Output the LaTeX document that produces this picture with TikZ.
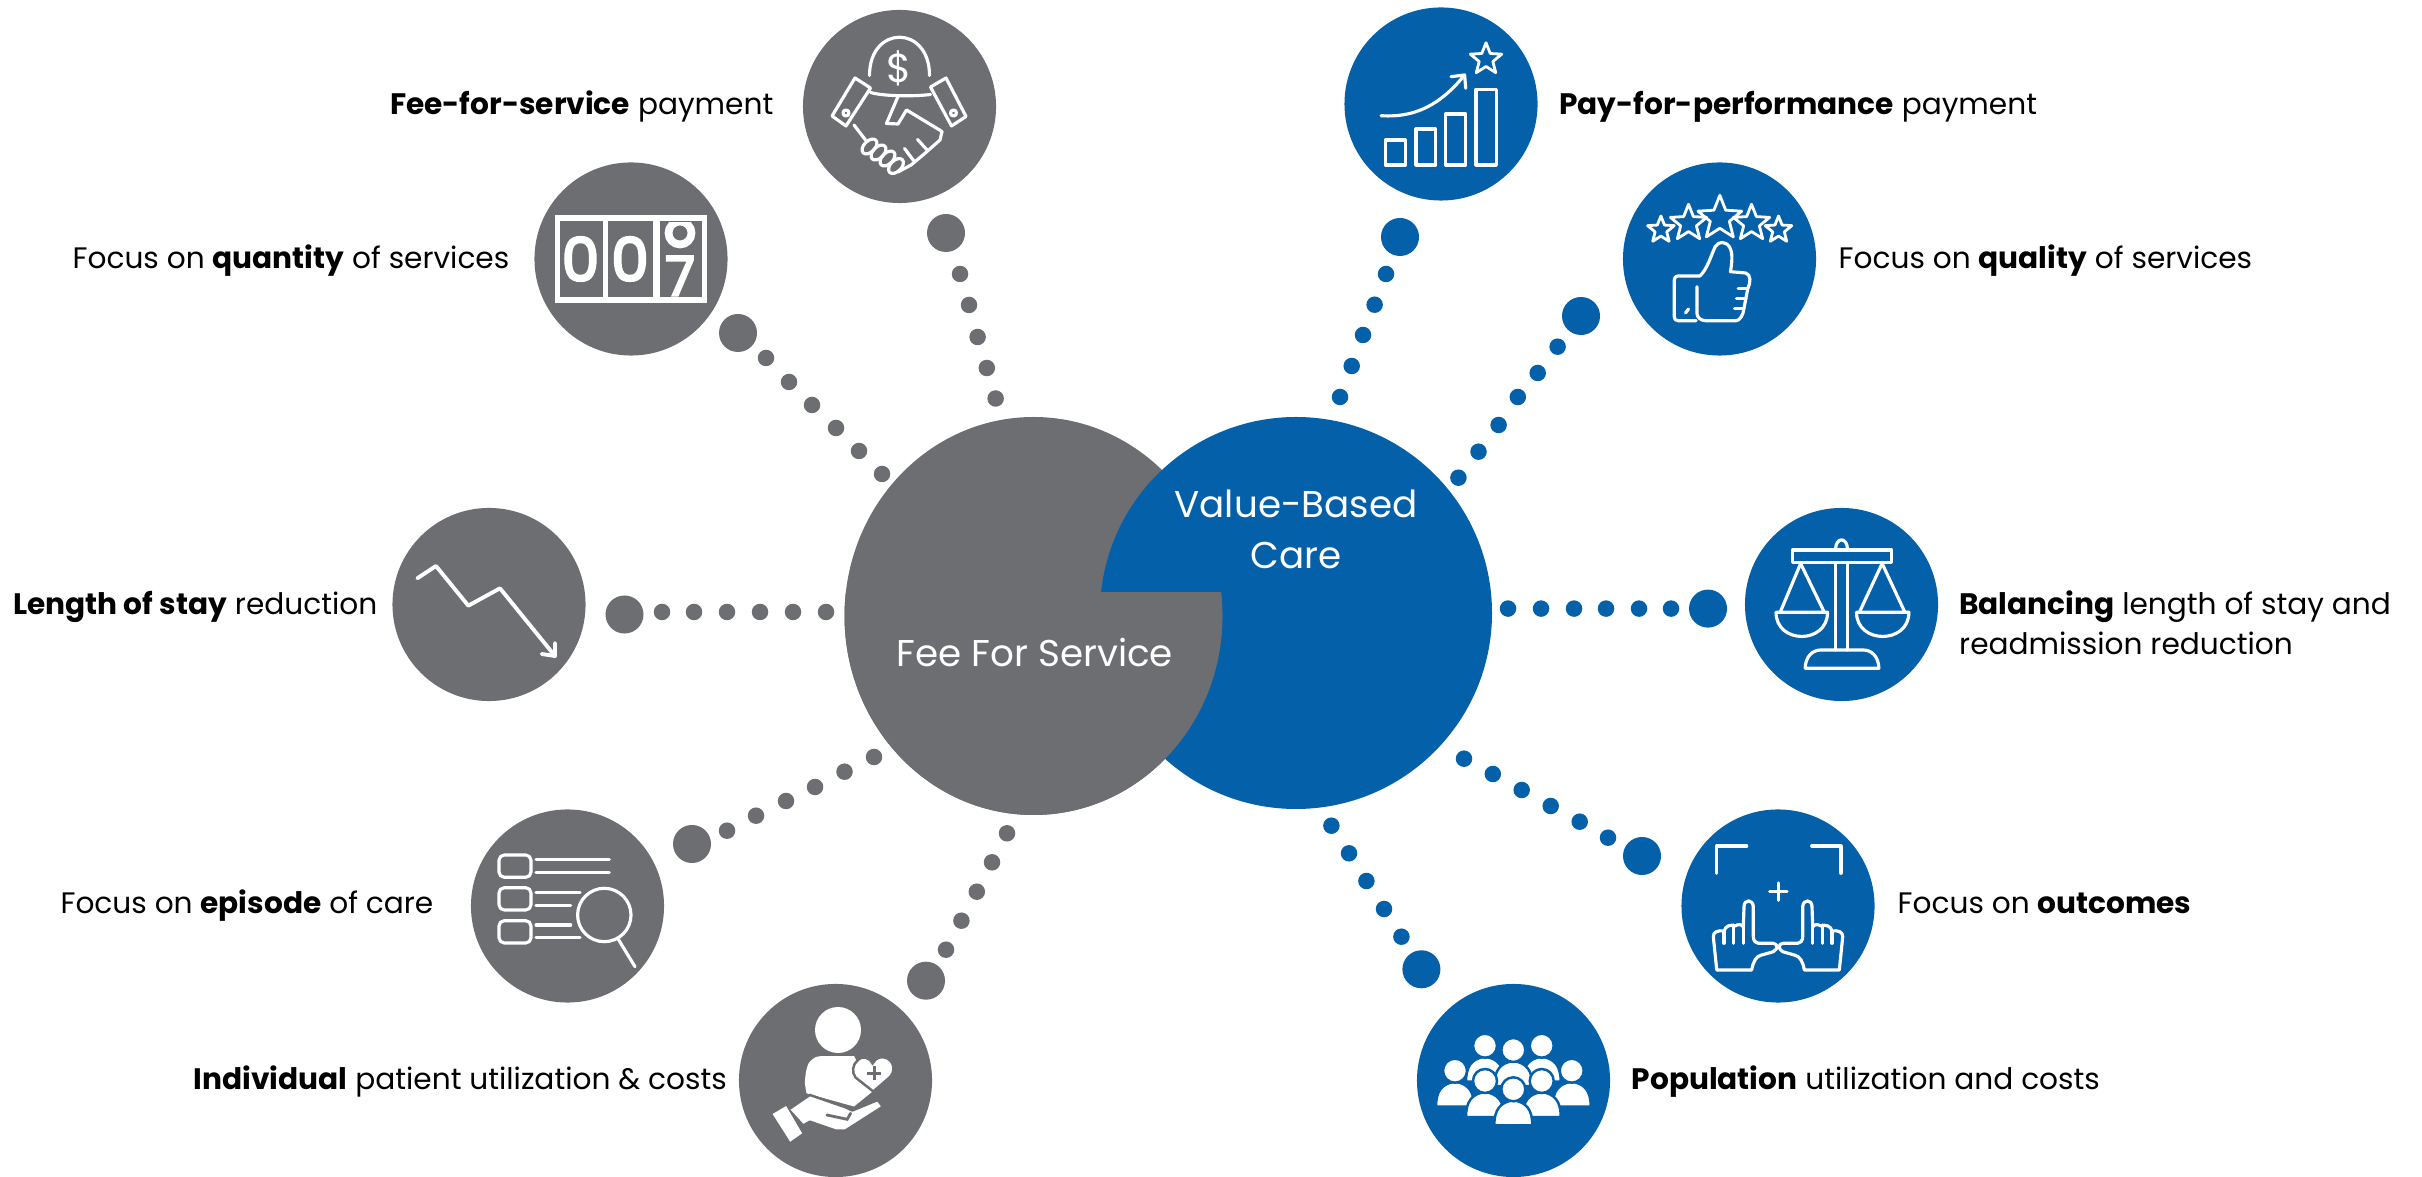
\documentclass[tikz,border=0pt]{standalone}
\usepackage{fontspec}
\setmainfont{Poppins}
\newfontfamily\digitfont[FakeBold=4]{Poppins}
\usetikzlibrary{shapes.geometric}

\definecolor{feegrey}{HTML}{6D6E71}
\definecolor{careblue}{HTML}{0460A9}

\tikzset{
	ring/.style={circle, inner sep=0, minimum size=1.93cm},
	bigdot/.style={circle, inner sep=0, minimum size=0.38cm},
	smalldot/.style={circle, inner sep=0, minimum size=0.165cm},
	label/.style={font=\fontsize{8.42}{11.4}\selectfont, inner sep=0, text=black, align=left},
	centrelabel/.style={font=\fontsize{10.6}{14.5}\selectfont, inner sep=0, text=white, align=center},
	thinline/.style={draw=white, line width=0.9pt, line join=round, line cap=round},
	iconstar/.style={star, star points=5, star point ratio=2.3, draw=white, line width=0.8pt, inner sep=0},
	digit/.style={font=\fontsize{17}{17}\digitfont, inner sep=0, text=white}
}

\begin{document}
\begin{tikzpicture}[x=0.01cm, y=-0.01cm]
		\useasboundingbox (0,0) rectangle (2422,1177);

		% the two big discs, grey in front below the notch
		\fill[feegrey] (1033.5,616) ellipse (189 and 199);
		\fill[careblue] (1296,613) circle (196);
		\begin{scope}
		\clip (800,593) rectangle (1300,900);
		\fill[feegrey] (1033.5,616) ellipse (189 and 199);
		\end{scope}
		\node[centrelabel] (fee) at (1035,652) {Fee For Service};
		\node[centrelabel] (value) at (1296,529) {Value-Based\\Care};

		\node[ring, fill=feegrey] (hand) at (899.5,106.5) {};
		\node[ring, fill=feegrey] (counter) at (631,259) {};
		\node[ring, fill=feegrey] (arrow) at (489,604.5) {};
		\node[ring, fill=feegrey] (episode) at (567.5,906) {};
		\node[ring, fill=feegrey] (person) at (835.5,1080.5) {};
		\node[ring, fill=careblue] (pay) at (1441,104) {};
		\node[ring, fill=careblue] (thumb) at (1719.5,259) {};
		\node[ring, fill=careblue] (scale) at (1841.5,604.5) {};
		\node[ring, fill=careblue] (frame) at (1778,906) {};
		\node[ring, fill=careblue] (crowd) at (1513.5,1080.5) {};

		% dots
		\foreach \x/\y in {946/233, 738/333, 624.5/614.5, 692/844, 926/980.7}
			\node[bigdot, fill=feegrey] at (\x,\y) {};
		\foreach \x/\y in {960/274, 969/305, 977.6/337, 986.8/368, 995.6/398.5,
				766/358, 789/382, 812/405, 836/428, 859/451, 882/474,
				662/612, 694/612, 727/612, 760/612, 793/612, 826/612,
				727/830.7, 756/815.7, 786/801, 815/787, 844.5/771.7, 874/757,
				946/949.7, 961.4/920.7, 976.8/891.7, 992/862.3, 1007/833.3}
			\node[smalldot, fill=feegrey] at (\x,\y) {};
		\foreach \x/\y in {1400/237, 1581/316, 1708/608.6, 1642/856, 1421.4/969.3}
			\node[bigdot, fill=careblue] at (\x,\y) {};
		\foreach \x/\y in {1386/274, 1374.6/304.7, 1363/335, 1351.7/366, 1340/397,
				1557.6/346.7, 1537.7/373, 1517.8/397, 1498.6/425, 1478.5/451.7, 1458.4/477.7,
				1671/608.6, 1639/608.6, 1606/608.6, 1574/608.6, 1541/608.6, 1508/608.6,
				1608/837.7, 1579.7/821.7, 1550.7/806, 1521.7/790, 1492.8/774, 1464/758.7,
				1401.4/936.7, 1384/909, 1366.4/881, 1349/853.3, 1331.4/825.7}
			\node[smalldot, fill=careblue] at (\x,\y) {};

		% labels
		\node[label, anchor=base east] (feelabel) at (774,114.5) {\textbf{Fee-for-service} payment};
		\node[label, anchor=base east] (quantitylabel) at (510,268.5) {Focus on \textbf{quantity} of services};
		\node[label, anchor=base east] (staylabel) at (378,614.5) {\textbf{Length of stay} reduction};
		\node[label, anchor=base east] (episodelabel) at (434,914) {Focus on \textbf{episode} of care};
		\node[label, anchor=base east] (individuallabel) at (727.5,1089.5) {\textbf{Individual} patient utilization \& costs};
		\node[label, anchor=base west] (paylabel) at (1558.5,114.5) {\textbf{Pay-for-performance} payment};
		\node[label, anchor=base west] (qualitylabel) at (1838,268.5) {Focus on \textbf{quality} of services};
		\node[label, anchor=base west] (balancelabel) at (1958.5,654.5) {\textbf{Balancing} length of stay and\\readmission reduction};
		\node[label, anchor=base west] (outcomelabel) at (1897,914) {Focus on \textbf{outcomes}};
		\node[label, anchor=base west] (populationlabel) at (1631,1089.5) {\textbf{Population} utilization and costs};

		% handshake
		\begin{scope}[shift={(hand.center)}, thinline]
		\draw (-30,-31) .. controls (-30,-82) and (30,-82) .. (30,-31);
		\node[font=\fontsize{11.5}{11.5}\selectfont, text=white, inner sep=0] (dollar) at (0,-38) {\$};
		\draw (-44.5,-28.5) -- (-29,-18.5) -- (-53.5,19.5) -- (-67.5,9.5) -- cycle;
		\draw (46.5,-28.5) -- (31,-19.5) -- (52,19.5) -- (66.5,10) -- cycle;
		\draw (-53.5,6.5) circle (3);
		\draw (54,6.5) circle (3);
		\draw (-29,-14) .. controls (-15,-10) and (15,-10) .. (31,-12);
		\draw (-1.5,-10) -- (-13,17) -- (-1.5,17.5) -- (7,3.5) -- (42.5,25);
		\draw (-45.5,18.5) -- (-34,33.5);
		\foreach \x/\y in {-30/40, -21/46, -12/52, -3.5/59.5}
			\draw[shift={(\x,\y)}, rotate=45] (0,0) ellipse (9 and 5.5);
		\draw (42.5,25) -- (40.5,33.5) -- (23.5,48.5) -- (11.5,58.5) -- (-1.5,65.5);
		\draw (28,44) -- (18,33);
		\draw (14,54) -- (5,42);
		\end{scope}

		% counter
		\begin{scope}[shift={(counter.center)}]
		\fill[white] (-76,-44) rectangle (76,44);
		\fill[feegrey] (-71,-38) rectangle (-28.5,38);
		\fill[feegrey] (-23,-38) rectangle (22,38);
		\fill[feegrey] (28.5,-38) rectangle (70.5,38);
		\node[digit] (firstdigit) at (-50.5,0) {0};
		\node[digit] (seconddigit) at (-1,0) {0};
		\node[digit, font=\fontsize{15.5}{15.5}\digitfont] (lastdigit) at (49,17) {7};
		\begin{scope}
		\clip (28.5,-36) rectangle (70.5,-8);
		\draw[white, line width=2.2pt] (49,-26) circle (11.5);
		\end{scope}
		\end{scope}

		% falling arrow
		\begin{scope}[shift={(arrow.center)}, thinline]
		\draw[line width=1.1pt] (-71.7,-26.2) -- (-53,-38.5) -- (-20.7,1.2) -- (11,-16.2) -- (66,51.5);
		\draw[line width=1.1pt] (52.7,49.5) -- (66,51.5) -- (66,38.5);
		\end{scope}

		% list and magnifier
		\begin{scope}[shift={(episode.center)}, thinline]
		\foreach \y in {-51,-18.3,14.7}
			\draw[rounded corners=1.5pt] (-68.5,\y) rectangle (-36.5,\y+22.3);
		\draw (-31.5,-46.7) -- (41.8,-46.7);
		\draw (-31.5,-33.3) -- (41.8,-33.3);
		\draw (-31.5,-13.7) -- (12.5,-13.7);
		\draw (-31.5,-0.7) -- (3.2,-0.7);
		\draw (-31.5,19) -- (3.2,19);
		\draw (-31.5,31.7) -- (12.5,31.7);
		\draw (36.8,9) circle (26.7);
		\draw (50.8,33.3) -- (67.5,60.7);
		\end{scope}

		% person on a hand
		\begin{scope}[shift={(person.center)}]
		\fill[white] (2.5,-50.5) circle (23);
		\fill[white] (-29,12.8) -- (-30.7,2.8) .. controls (-30,-10) and (-28,-18) .. (-24,-20.5)
			.. controls (-20,-24) and (-17,-24.5) .. (-13.7,-24.5) -- (18.5,-24.5) -- (37,11) -- (18.5,26) -- cycle;
		\draw[draw=feegrey, fill=white, line width=0.7pt] (37.1,-17) .. controls (33,-24) and (27,-25) .. (22,-20)
			.. controls (17,-16) and (16,-8) .. (20,-3) -- (37.8,11) -- (54,-3)
			.. controls (60,-9) and (59,-18) .. (52,-22) .. controls (46,-25) and (40,-23) .. (37.1,-17) -- cycle;
		\draw[feegrey, line width=0.8pt] (31.8,-7.2) -- (45.8,-7.2) (38.8,-14.2) -- (38.8,-0.2);
		\draw[draw=feegrey, fill=white, line width=0.7pt, line join=round] (-47,29) -- (-30.7,17.8) -- (-25.6,14.5) -- (10,26.8) -- (16.8,30)
			-- (42.2,19.5) -- (47.3,26.2) -- (10,50) -- (-0.2,50) -- (-25.6,41.2) -- (-32.4,45) -- cycle;
		\draw[feegrey, line width=0.8pt, line cap=round] (-8.6,34.5) -- (11.7,38.8) -- (15.1,32.8);
		\fill[white] (-62.9,33.5) -- (-49.4,25.5) -- (-33.4,52.8) -- (-45.3,61.2) -- cycle;
		\end{scope}

		% bars and arrow
		\begin{scope}[shift={(pay.center)}, thinline]
		\draw (-55.7,36) rectangle (-35.8,61);
		\draw (-25,25) rectangle (-5.5,61);
		\draw (4.8,10) rectangle (24.7,61);
		\draw (35,-14.7) rectangle (55.3,61);
		\draw (-60,11.7) .. controls (-25,14) and (0,0) .. (23.6,-29);
		\draw (10,-27.3) -- (23.6,-29) -- (24.7,-15.7);
		\node[iconstar, minimum size=0.33cm] (paystar) at (45,-44.7) {};
		\end{scope}

		% thumb and stars
		\begin{scope}[shift={(thumb.center)}, thinline]
		\node[iconstar, minimum size=0.28cm] (starone) at (-58.6,-29) {};
		\node[iconstar, minimum size=0.38cm] (startwo) at (-31,-35.7) {};
		\node[iconstar, minimum size=0.46cm] (starthree) at (0.3,-40.7) {};
		\node[iconstar, minimum size=0.38cm] (starfour) at (32,-35.7) {};
		\node[iconstar, minimum size=0.28cm] (starfive) at (59,-29) {};
		\draw[rounded corners=1pt] (-23.4,17) -- (-45.2,17) -- (-45.2,61.7) -- (-23.4,61.7);
		\draw (-23.4,17) -- (-19.6,17) .. controls (-12,10) and (-8,-5) .. (-4.3,-12.3)
			.. controls (-1,-18) and (6,-18) .. (10,-12) .. controls (14,-5) and (12,5) .. (11,12.7) -- (26,14)
			.. controls (32,15) and (31,25) .. (28.3,29.3) -- (26.4,39.3) -- (24.4,49.3)
			.. controls (24,56) and (20,61.7) .. (16.8,61.7) -- (-13.8,61.7) .. controls (-19,61.7) and (-22.6,58) .. (-22.6,54.3) -- (-22.6,27.7);
		\draw (18.7,29.3) -- (28.3,29.3);
		\draw (16.8,39.3) -- (26.4,39.3);
		\draw (15,49.3) -- (24.4,49.3);
		\draw (-34,54) -- (-31,50);
		\end{scope}

		% balance
		\begin{scope}[shift={(scale.center)}, thinline]
		\draw (-49,-54.5) rectangle (50,-42);
		\draw (-6,-54.5) .. controls (-6,-68) and (6,-68) .. (6,-54.5);
		\draw (-6,-42) -- (-6,45.5);
		\draw (6,-42) -- (6,45.5);
		\draw (-36.4,63.8) -- (37.4,63.8) .. controls (37,52) and (30,45.5) .. (21.8,45.5) -- (-20.8,45.5) .. controls (-29,45.5) and (-36,52) .. (-36.4,63.8);
		\draw (-40.9,-41) -- (-61,7);
		\draw (-40.9,-41) -- (-17.6,7);
		\draw (40.6,-41) -- (18.2,7);
		\draw (40.6,-41) -- (63,7);
		\draw (-65.5,7.8) -- (-14,7.8) .. controls (-14,40) and (-65.5,40) .. (-65.5,7.8);
		\draw (15,7.8) -- (67.4,7.8) .. controls (67.4,40) and (15,40) .. (15,7.8);
		\end{scope}

		% framing hands
		\begin{scope}[shift={(frame.center)}, thinline]
		\draw (-61.3,-32.7) -- (-61.3,-60) -- (-31.3,-60);
		\draw (33.7,-60) -- (63,-60) -- (63,-32.7);
		\draw (-8.4,-14.3) -- (9,-14.3);
		\draw (0.3,-23) -- (0.3,-5.6);
		\foreach \s in {1,-1} {
		\begin{scope}[xscale=\s]
		\draw (-61.3,64) -- (-64.7,30.7) .. controls (-65,26) and (-60,24) .. (-54,25) .. controls (-53,20) and (-47,18) .. (-43,20)
			.. controls (-40,18) and (-36,18) .. (-34.7,21) -- (-34,0.7) .. controls (-34,-7) and (-25,-7) .. (-24.7,0.7) -- (-24.7,30.7)
			.. controls (-24.7,35) and (-22,37.3) .. (-19.7,37.3) -- (-4.7,37.3) .. controls (0,38) and (0,43) .. (-4.7,45.7)
			-- (-16.3,49) .. controls (-22,50) and (-25,56) .. (-26.3,64) -- cycle;
		\draw (-54,25.7) -- (-54,37.3);
		\draw (-44.7,19) -- (-44.7,37.3);
		\draw (-34.7,20.7) -- (-34.7,37.3);
		\end{scope}
		}
		\end{scope}

		% crowd
		\begin{scope}[shift={(crowd.center)}]
		\foreach \x/\y in {-28.5/-34.8, 28.2/-34.8, -0.2/-30.5, -58.5/-9.8, 58.2/-9.8, -28.5/0.5, 28.2/0.5, -0.2/8.8} {
		\begin{scope}[shift={(\x,\y)}]
		\draw[careblue, fill=white, line width=0.7pt] (-19,36) .. controls (-19,20) and (-13,13) .. (0,11) .. controls (13,13) and (19,20) .. (19,36) -- cycle;
		\draw[careblue, fill=white, line width=0.7pt] (0,0) circle (12);
		\end{scope}
		}
		\end{scope}
		\end{tikzpicture}
\end{document}
